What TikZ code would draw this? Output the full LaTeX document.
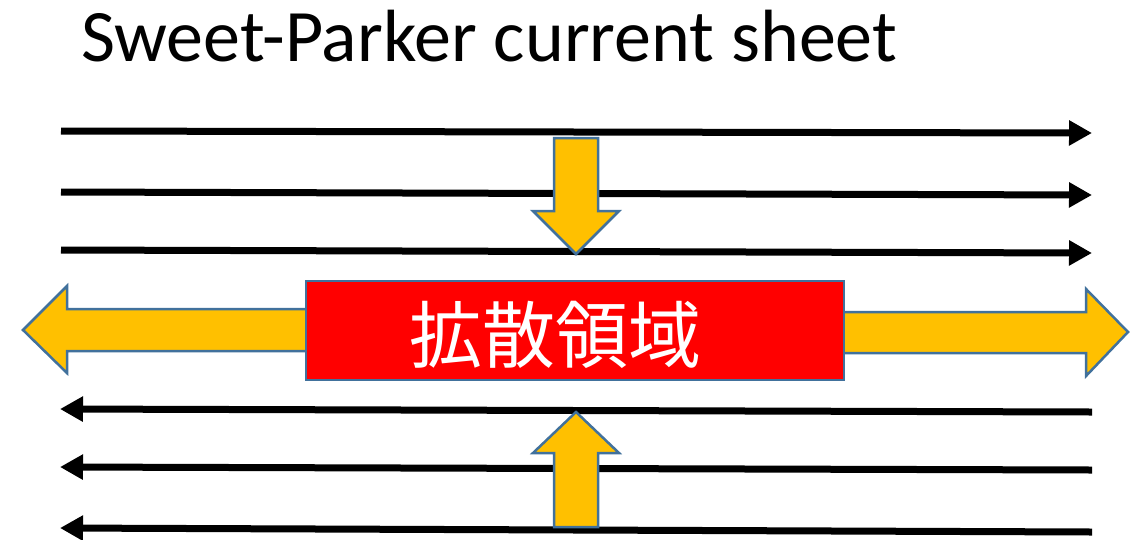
\documentclass[tikz,border=0pt]{standalone}
\usepackage{fontspec}
\setmainfont{Carlito}
\newfontfamily\cjk{Noto Sans CJK JP}
\usetikzlibrary{arrows.meta}
\definecolor{orangefill}{HTML}{FFC000}
\definecolor{outlineblue}{HTML}{41719C}
\tikzset{
  fieldline/.style={line width=7pt, -{Triangle[length=23pt,width=24pt]}, black},
  blockarrow/.style={fill=orangefill, draw=outlineblue, line width=2.5pt, line join=miter},
  diffbox/.style={fill=red, draw=outlineblue, line width=2.5pt, minimum width=538pt, minimum height=99pt, inner sep=0pt},
  difftext/.style={text=white, inner sep=0pt, font=\cjk\fontsize{73}{80}\selectfont},
  titletext/.style={font=\fontsize{74}{85}\selectfont, inner sep=0pt, anchor=base west}
}
\begin{document}
\begin{tikzpicture}[x=1pt,y=-1pt]
\useasboundingbox (0,0) rectangle (1143,539);
% title
\node[titletext] (title) at (81,61) {Sweet-Parker current sheet};
% field line end points
\coordinate (t1a) at (61,131); \coordinate (t1b) at (1092,133);
\coordinate (t2a) at (61,192); \coordinate (t2b) at (1092,195);
\coordinate (t3a) at (61,250); \coordinate (t3b) at (1092,253);
\coordinate (b1a) at (1092,412); \coordinate (b1b) at (60,409);
\coordinate (b2a) at (1092,470); \coordinate (b2b) at (60,467);
\coordinate (b3a) at (1092,532); \coordinate (b3b) at (60,528);
\draw[fieldline] (t1a) -- (t1b);
\draw[fieldline] (t2a) -- (t2b);
\draw[fieldline] (t3a) -- (t3b);
\draw[fieldline] (b1a) -- (b1b);
\draw[fieldline] (b2a) -- (b2b);
\draw[fieldline] (b3a) -- (b3b);
% inflow arrows
\draw[blockarrow] (554,138) -- (598,138) -- (598,211) -- (619,211) -- (576,254) -- (533,211) -- (554,211) -- cycle;
\draw[blockarrow] (554,527) -- (598,527) -- (598,453) -- (619,453) -- (576,412) -- (533,453) -- (554,453) -- cycle;
% outflow arrows
\draw[blockarrow] (320,309) -- (67,309) -- (67,286) -- (23,330) -- (67,373) -- (67,351) -- (320,351) -- cycle;
\draw[blockarrow] (830,312) -- (1086,312) -- (1086,289) -- (1128,332) -- (1086,376) -- (1086,353) -- (830,353) -- cycle;
% diffusion region
\node[diffbox] (diff) at (575,330.5) {};
\node[difftext] (difftxt) at (555,335) {拡散領域};
\end{tikzpicture}
\end{document}
